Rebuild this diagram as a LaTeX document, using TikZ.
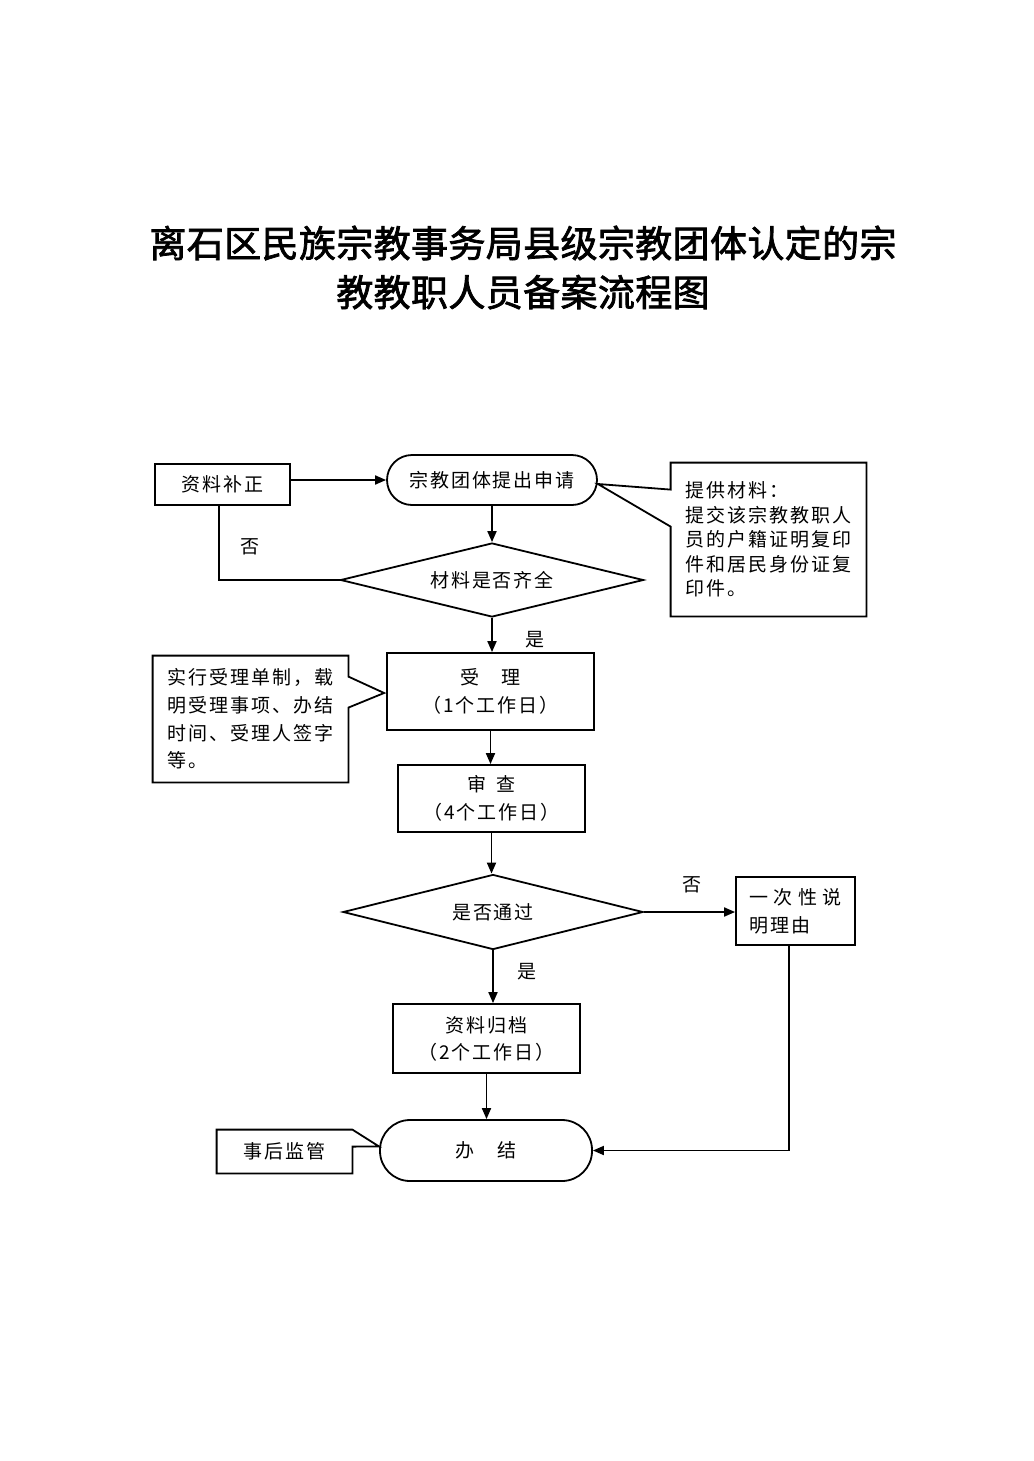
\documentclass[tikz,border=0pt]{standalone}
\usepackage{fontspec}
\setmainfont{Noto Sans CJK SC}
\newfontfamily\cjk[LetterSpace=10]{Noto Sans CJK SC}
\newfontfamily\cjkwide[LetterSpace=28]{Noto Sans CJK SC}
\newfontfamily\cjktitle[LetterSpace=1,FakeBold=2]{Noto Sans CJK SC}
\usetikzlibrary{shapes.geometric,arrows.meta,calc}
\tikzset{
  bodyfont/.style={font=\cjk\fontsize{9.5}{14}\selectfont},
  plainbox/.style={draw, line width=0.9pt, inner sep=0pt, align=center, bodyfont},
  stadium/.style={plainbox},
  decision/.style={diamond, draw, line width=0.9pt, inner sep=0pt, bodyfont},
  calloutbox/.style={inner sep=0pt, align=left, bodyfont},
  arr/.style={line width=0.9pt, -{Triangle[length=5.5pt,width=4.5pt]}},
  conn/.style={line width=0.9pt},
  lbl/.style={inner sep=0pt, bodyfont}
}
\begin{document}
\begin{tikzpicture}[x=0.5pt,y=-0.5pt]
\useasboundingbox[fill=white] (0,0) rectangle (1033,1461);

\node[inner sep=0pt, align=center, font=\cjktitle\fontsize{18.5}{24.5}\selectfont] (title) at (523,267.5)
  {离石区民族宗教事务局县级宗教团体认定的宗\\教教职人员备案流程图};

\node[plainbox, minimum width=67.5pt, minimum height=20.5pt] (bz) at (222.5,484.5) {资料补正};
\node[stadium, rounded corners=12.5pt, minimum width=105pt, minimum height=25pt] (sq) at (492,480) {宗教团体提出申请};
\node[calloutbox, minimum width=97.5pt, minimum height=76.5pt, font=\cjk\fontsize{9.5}{12.2}\selectfont] (tg) at (768.5,539.5)
  {提供材料：\\提交该宗教教职人\\员的户籍证明复印\\件和居民身份证复\\印件。};
\node[decision, aspect=4.09, minimum width=151.5pt, minimum height=37pt] (d1) at (492,580) {材料是否齐全};
\node[plainbox, minimum width=103.5pt, minimum height=38.5pt] (sl) at (490.5,691.5) {受　理\\（1个工作日）};
\node[calloutbox, minimum width=97.5pt, minimum height=63pt, font=\cjk\fontsize{9.5}{13.8}\selectfont] (sx) at (250.5,719)
  {实行受理单制，载\\明受理事项、办结\\时间、受理人签字\\等。};
\node[plainbox, minimum width=93.5pt, minimum height=33.5pt] (sc) at (491.5,798.5) {审\hspace{0.5em}查\\（4个工作日）};
\node[decision, aspect=4.0, minimum width=150pt, minimum height=37.5pt] (d2) at (493,912) {是否通过};
\node[plainbox, align=left, minimum width=59.5pt, minimum height=34pt] (yc) at (795.5,911) {{\cjkwide 一次性说}\\明理由};
\node[plainbox, minimum width=93.5pt, minimum height=34.5pt, font=\cjk\fontsize{9.5}{13.5}\selectfont] (gd) at (486.5,1038.5) {资料归档\\（2个工作日）};
\node[stadium, rounded corners=15pt, minimum width=106pt, minimum height=30.5pt] (bj) at (486,1150.5) {办　结};
\node[calloutbox, minimum width=67.5pt, minimum height=21.5pt] (sh) at (284.5,1151.5) {事后监管};

% callout outlines
\draw[conn] (tg.north west) -- (tg.north east) -- (tg.south east) -- (tg.south west)
  -- ($(tg.north west)+(0,64)$) -- ($(sq.east)+(0,4)$) -- ($(tg.north west)+(0,27)$) -- cycle;
\draw[conn] (sx.north west) -- (sx.north east) -- ($(sx.north east)+(0,21)$) -- ($(sl.west)+(-2,1.5)$)
  -- ($(sx.north east)+(0,52)$) -- (sx.south east) -- (sx.south west) -- cycle;
\draw[conn] (sh.north west) -- (sh.north east) -- ($(bj.west)+(0,-4)$) -- ($(sh.north east)+(0,17)$)
  -- (sh.south east) -- (sh.south west) -- cycle;

% connectors
\draw[arr] (bz.east |- sq.west) -- (sq.west);
\draw[arr] (sq.south) -- (sq.south |- d1.north);
\draw[conn] (d1.west) -| ($(bz.south)+(-3.5,0)$);
\node[lbl] (no1) at (250,547) {否};
\draw[arr] (d1.south) -- (d1.south |- sl.north);
\node[lbl] (yes1) at (535,640) {是};
\draw[arr] (sl.south) -- (sl.south |- sc.north);
\draw[arr] (sc.south) -- (sc.south |- d2.north);
\draw[arr] (d2.east) -- (d2.east -| yc.west);
\node[lbl] (no2) at (692,885) {否};
\draw[arr] (d2.south) -- (d2.south |- gd.north);
\node[lbl] (yes2) at (527,972) {是};
\draw[arr] (gd.south) -- (gd.south |- bj.north);
\draw[arr] ($(yc.south)+(-6.5,0)$) |- (bj.east);
\end{tikzpicture}
\end{document}
